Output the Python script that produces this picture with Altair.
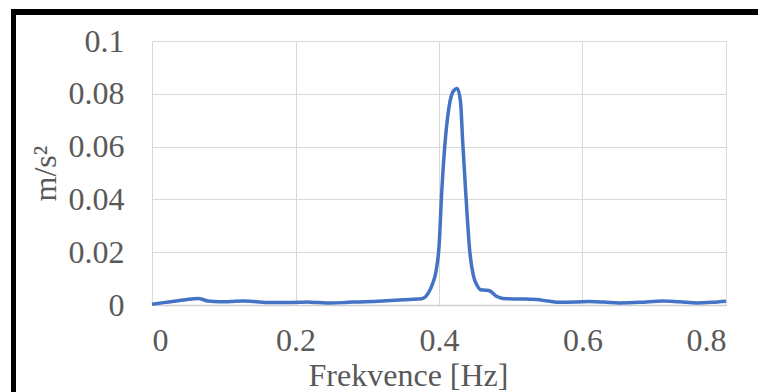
import altair as alt
import pandas as pd

freq = [0, 0.016, 0.031, 0.047, 0.064, 0.078, 0.094, 0.109, 0.127, 0.141, 0.164, 0.1875,
        0.206, 0.216, 0.234, 0.248, 0.266, 0.281, 0.297, 0.322, 0.344, 0.359, 0.376, 0.385,
        0.391, 0.396, 0.400, 0.404, 0.408, 0.414, 0.420, 0.4255, 0.430, 0.433, 0.437, 0.443,
        0.448, 0.453, 0.458, 0.465, 0.471, 0.480, 0.489, 0.505, 0.52, 0.536, 0.552, 0.569,
        0.59, 0.61, 0.63, 0.652, 0.68, 0.712, 0.735, 0.76, 0.78, 0.8]
amp = [0.0003, 0.0009, 0.0014, 0.002, 0.0025, 0.0015, 0.0012, 0.0013, 0.0015, 0.0013, 0.0009, 0.0009,
       0.001, 0.0011, 0.0009, 0.0008, 0.0009, 0.0011, 0.0012, 0.0015, 0.0019, 0.0021, 0.0024, 0.0045,
       0.008, 0.013, 0.022, 0.0437, 0.060, 0.075, 0.081, 0.082, 0.077, 0.062, 0.0437, 0.020,
       0.011, 0.0075, 0.0058, 0.0056, 0.0053, 0.0033, 0.0025, 0.0023, 0.0023, 0.0021, 0.0015, 0.001,
       0.0011, 0.0013, 0.0011, 0.0008, 0.001, 0.0015, 0.0012, 0.0008, 0.001, 0.0014]

x_ticks = [0, 0.2, 0.4, 0.6, 0.8]
y_ticks = [0, 0.02, 0.04, 0.06, 0.08, 0.1]

df = pd.DataFrame({"f": freq, "a": amp})

FONT = "'Liberation Serif', Tinos, 'Times New Roman', Times, 'Nimbus Roman', FreeSerif, serif"
GRAY = "#595959"
FS = 32

line = alt.Chart(df).mark_line(
    color="#4472C4", strokeWidth=3.5, interpolate="monotone"
).encode(
    x=alt.X("f:Q", scale=alt.Scale(domain=[0, 0.8], nice=False),
            axis=alt.Axis(values=x_ticks, format="~g", title="Frekvence [Hz]",
                          grid=True, gridColor="#D9D9D9", gridWidth=1,
                          domain=True, domainColor="#D0D0D0", domainWidth=1.5,
                          ticks=False, labelPadding=20, labelFont=FONT, labelFontSize=FS,
                          labelColor=GRAY, titleFont=FONT, titleFontSize=FS,
                          titleFontWeight="normal", titleColor=GRAY,
                          titleX=256, titleY=70, titleAlign="center",
                          titleBaseline="middle", titleAnchor="start")),
    y=alt.Y("a:Q", scale=alt.Scale(domain=[0, 0.1], nice=False),
            axis=alt.Axis(values=y_ticks, format="~g", title="m/s²",
                          grid=True, gridColor="#D9D9D9", gridWidth=1,
                          domain=False, ticks=False, labelPadding=28,
                          labelFont=FONT, labelFontSize=FS, labelColor=GRAY,
                          titleFont=FONT, titleFontSize=FS, titleFontWeight="normal",
                          titleColor=GRAY, titleX=-107, titleY=132, titleAngle=-90,
                          titleAlign="center", titleBaseline="middle", titleAnchor="start")),
)

frame_data = alt.Data(values=[{"k": 1}])
left_bar = alt.Chart(frame_data).mark_rect(color="black").encode(
    x=alt.value(-141), x2=alt.value(-136), y=alt.value(-32), y2=alt.value(400)
)
top_bar = alt.Chart(frame_data).mark_rect(color="black").encode(
    x=alt.value(-141), x2=alt.value(700), y=alt.value(-32), y2=alt.value(-26)
)

chart = alt.layer(line, left_bar, top_bar).properties(
    width=574, height=264,
    autosize=alt.AutoSizeParams(type="none"),
    padding={"left": 152, "top": 41, "right": 32, "bottom": 87},
    background="white",
).configure_view(stroke=None)

chart.save("out.html", embed_options={"renderer": "svg", "actions": False})
